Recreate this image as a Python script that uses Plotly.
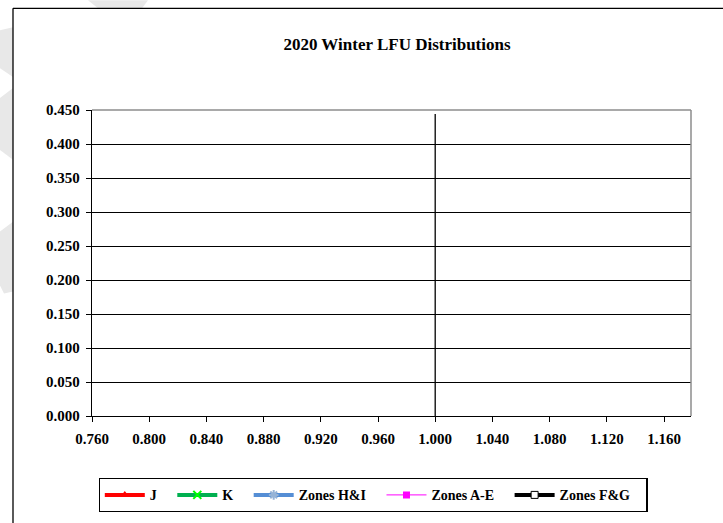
import plotly.graph_objects as go

# ---------------- data ----------------
title_text = "2020 Winter LFU Distributions"
x_ticks = [0.760, 0.800, 0.840, 0.880, 0.920, 0.960, 1.000, 1.040, 1.080, 1.120, 1.160]
y_ticks = [0.000, 0.050, 0.100, 0.150, 0.200, 0.250, 0.300, 0.350, 0.400, 0.450]

series_names = ["J", "K", "Zones H&I", "Zones A-E", "Zones F&G"]
# no points of these series fall inside the visible window
j_x, j_y = [None], [None]
k_x, k_y = [None], [None]
hi_x, hi_y = [None], [None]
ae_x, ae_y = [None], [None]
fg_x, fg_y = [None], [None]

ref_x = [1.0, 1.0]
ref_y = [0.0, 0.444]

# ---------------- figure ----------------
W, H = 723, 523
L, R, T, B = 92, 691, 110, 417

FONT = "Liberation Serif"

fig = go.Figure()

styles = [
    dict(x=j_x, y=j_y, line=dict(color="#FF0000", width=4),
         marker=dict(symbol="triangle-up", color="#FF0000", size=8)),
    dict(x=k_x, y=k_y, line=dict(color="#00B050", width=4),
         marker=dict(symbol="x-thin", color="#00FF00", size=8, line=dict(color="#00FF00", width=2))),
    dict(x=hi_x, y=hi_y, line=dict(color="#558ED5", width=4),
         marker=dict(symbol="asterisk", color="#558ED5", size=8, line=dict(color="#95B3D7", width=2))),
    dict(x=ae_x, y=ae_y, line=dict(color="#FF00FF", width=1),
         marker=dict(symbol="square", color="#FF00FF", size=7)),
    dict(x=fg_x, y=fg_y, line=dict(color="#000000", width=4),
         marker=dict(symbol="square", color="#FFFFFF", size=7, line=dict(color="#000000", width=1))),
]
for name, st in zip(series_names, styles):
    fig.add_trace(go.Scatter(name="<b>" + name + "</b>&nbsp;&nbsp;&nbsp;",
                             mode="lines+markers", **st))

fig.add_trace(go.Scatter(x=ref_x, y=ref_y, mode="lines", showlegend=False,
                         line=dict(color="#000000", width=1.3), hoverinfo="skip"))


def px_x(p):
    return (p - L) / (R - L)


def px_y(p):
    return (B - p) / (B - T)


def poly(pts):
    d = "M " + " L ".join(f"{px_x(a):.4f},{px_y(b):.4f}" for a, b in pts) + " Z"
    return d


shapes = []
# faint watermark fragments outside the chart border
wm = "#E8E8E8"
for pts in [
    [(88, 0), (148, 0), (142, 8), (98, 8)],
    [(0, 30), (13, 27), (13, 77), (0, 68)],
    [(0, 98), (13, 88), (13, 160), (0, 150)],
    [(0, 232), (13, 222), (13, 292), (4, 294), (0, 286)],
]:
    shapes.append(dict(type="path", xref="paper", yref="paper", path=poly(pts),
                       fillcolor=wm, line=dict(width=0), layer="below"))

# outer chart border (left and top visible)
shapes.append(dict(type="line", xref="paper", yref="paper",
                   x0=px_x(13), x1=px_x(13), y0=px_y(8), y1=px_y(530),
                   line=dict(color="#000000", width=1.3)))
shapes.append(dict(type="line", xref="paper", yref="paper",
                   x0=px_x(13), x1=px_x(725), y0=px_y(8), y1=px_y(8),
                   line=dict(color="#000000", width=1.3)))
# plot area top/right border (gray)
shapes.append(dict(type="line", xref="paper", yref="paper", x0=0, x1=1, y0=1, y1=1,
                   line=dict(color="#8C8C8C", width=1.5), layer="above"))
shapes.append(dict(type="line", xref="paper", yref="paper", x0=1, x1=1, y0=0, y1=1,
                   line=dict(color="#8C8C8C", width=1.5), layer="above"))

fig.update_layout(
    width=W, height=H,
    margin=dict(l=L, r=W - R, t=T, b=H - B, pad=0),
    paper_bgcolor="#FFFFFF", plot_bgcolor="#FFFFFF",
    font=dict(family=FONT, color="#000000", size=14),
    title=dict(text="<b>" + title_text + "</b>", x=397 / W, xanchor="center",
               y=1 - 44 / H, yanchor="middle", font=dict(family=FONT, size=17)),
    showlegend=True,
    legend=dict(orientation="h", x=px_x(373), xanchor="center", y=px_y(478), yanchor="top",
                bordercolor="#000000", borderwidth=1.3, bgcolor="#FFFFFF",
                font=dict(family=FONT, size=14), itemwidth=40, tracegroupgap=0),
    shapes=shapes,
    hovermode=False,
)

fig.update_xaxes(
    range=[0.76, 0.76 + 0.04 * (R - L) / 57.2],
    tickvals=x_ticks, ticktext=[f"<b>{v:.3f}</b>" for v in x_ticks],
    ticks="outside", ticklen=5, tickwidth=1.3, tickcolor="#000000",
    showline=True, linecolor="#000000", linewidth=1.3,
    showgrid=False, zeroline=False, ticklabelstandoff=4,
    tickfont=dict(family=FONT, size=15, color="#000000"),
)
fig.update_yaxes(
    range=[0, 0.45],
    tickvals=y_ticks, ticktext=[f"<b>{v:.3f}</b>" for v in y_ticks],
    ticks="outside", ticklen=5, tickwidth=1.3, tickcolor="#000000",
    showline=True, linecolor="#000000", linewidth=1.3,
    showgrid=True, gridcolor="#000000", gridwidth=1.3,
    zeroline=False, ticklabelstandoff=3,
    tickfont=dict(family=FONT, size=15, color="#000000"),
)

fig.write_html("out.html", config={"displayModeBar": False},
               post_script="document.body.style.margin='0';document.body.style.overflow='hidden';")
